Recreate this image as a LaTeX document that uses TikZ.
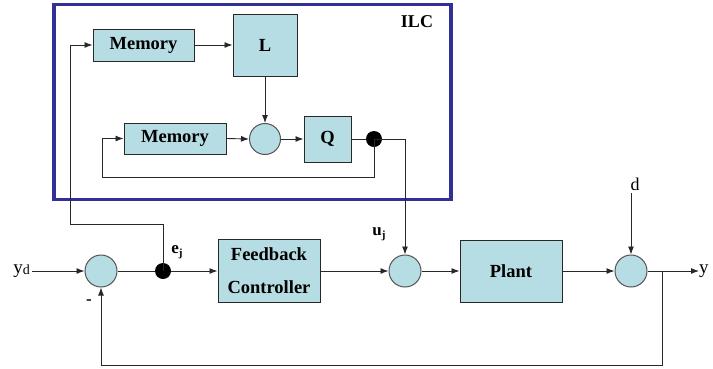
\documentclass[tikz,border=0pt]{standalone}
\usepackage{fontspec}
\setmainfont{Liberation Serif}
\newfontfamily\tms{Liberation Serif}
\usetikzlibrary{arrows.meta}
\definecolor{boxfill}{RGB}{182,221,227}
\definecolor{ilcblue}{RGB}{50,48,150}
\definecolor{linec}{RGB}{40,40,40}
\tikzset{
  blk/.style={draw=linec, line width=1pt, fill=boxfill, inner sep=0pt,
    font=\tms\fontsize{18.5}{22}\selectfont\bfseries, align=center},
  sumc/.style={circle, draw=linec!80, line width=1pt, fill=boxfill, minimum size=31pt, inner sep=0pt},
  dotc/.style={circle, fill=black, minimum size=16pt, inner sep=0pt},
  conn/.style={draw=linec, line width=0.9pt},
  arr/.style={conn, -{Latex[length=8pt,width=6pt]}},
  lbl/.style={font=\tms\fontsize{17}{19}\selectfont, inner sep=0pt}
}
\begin{document}
\begin{tikzpicture}[x=1pt,y=-1pt]
\useasboundingbox (0,0) rectangle (713,368);
% ILC frame
\node[draw=ilcblue, line width=3.5pt, minimum width=397pt, minimum height=195pt, inner sep=0pt] (ilc) at (252.5,102) {};
\node[font=\tms\fontsize{18}{20}\selectfont\bfseries, inner sep=0pt] (ilclbl) at (417,22) {ILC};
% ILC internals
\node[blk, minimum width=101pt, minimum height=32pt] (mem1) at (143.5,45) {Memory};
\node[blk, minimum width=64pt, minimum height=62pt] (L) at (265,45) {L};
\node[blk, minimum width=102pt, minimum height=31pt] (mem2) at (175,138.5) {Memory};
\node[sumc] (sumI) at (265,139) {};
\node[blk, minimum width=47pt, minimum height=46pt] (Q) at (327.5,139) {Q};
\node[dotc] (dotI) at (374,139) {};
% Main loop
\node[sumc, minimum size=32pt] (sum1) at (101,271) {};
\node[dotc] (ej) at (163,271) {};
\node[blk, minimum width=102pt, minimum height=63pt] (fc) at (269,271) {Feedback\\[11pt]Controller};
\node[sumc, minimum size=32pt] (sum2) at (405,271) {};
\node[blk, minimum width=102pt, minimum height=62pt] (plant) at (511,271) {Plant};
\node[sumc, minimum size=32pt] (sum3) at (631,271) {};
% labels
\node[lbl, anchor=east] (yd) at (30,271) {\fontsize{19}{20}\selectfont y\raisebox{-0.5pt}{\fontsize{14}{15}\selectfont d}};
\node[lbl, anchor=west] (y) at (699,271) {\fontsize{19}{20}\selectfont y};
\node[lbl] (d) at (635,184) {\fontsize{18}{20}\selectfont d};
\node[lbl] (minus) at (89,302) {\bfseries -};
\node[lbl] (ejl) at (177,252) {\bfseries e\raisebox{-3pt}{\fontsize{11}{13}\selectfont j}};
\node[lbl] (ujl) at (379,234) {\bfseries u\raisebox{-3pt}{\fontsize{11}{13}\selectfont j}};
\coordinate (dtop) at (631,193);
\coordinate (branch) at (662,271);
% ILC connectors
\draw[arr] (mem1.east) -- (L.west |- mem1.east);
\draw[arr] (L.south) -- (sumI.north);
\draw[arr] (mem2.east) -- (sumI.west);
\draw[arr] (sumI.east) -- (Q.west);
\draw[conn] (Q.east) -- (dotI);
\draw[arr] (dotI.center) -- (374,177) -- (102,177) -- (102,138.5) -- (mem2.west);
\draw[arr] (dotI.center) -- (405,139) -- (sum2.north);
\draw[arr] (ej.center) -- (163,224) -- (70,224) -- (70,45) -- (mem1.west);
% main connectors
\draw[arr] (yd.east) ++(2,0) -- (sum1.west);
\draw[conn] (sum1.east) -- (ej);
\draw[arr] (ej) -- (fc.west);
\draw[arr] (fc.east) -- (sum2.west);
\draw[arr] (sum2.east) -- (plant.west);
\draw[arr] (plant.east) -- (sum3.west);
\draw[arr] (dtop) -- (sum3.north);
\draw[arr] (sum3.east) -- (y.west);
\draw[arr] (branch) -- (662,365) -- (101,365) -- (sum1.south);
\end{tikzpicture}
\end{document}
